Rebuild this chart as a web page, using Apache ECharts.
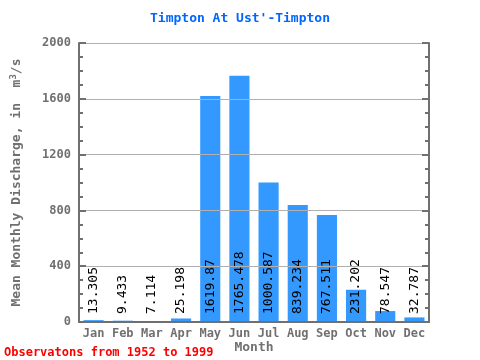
<!DOCTYPE html>
<html><head><meta charset="utf-8">
<script src="https://cdn.jsdelivr.net/npm/echarts@6/dist/echarts.min.js"></script>
<style>html,body{margin:0;padding:0;background:#fff}#c{width:480px;height:360px}</style>
</head><body><div id="c"></div>
<script>
var months = ['Jan','Feb','Mar','Apr','May','Jun','Jul','Aug','Sep','Oct','Nov','Dec'];
var discharge = [13.305, 9.433, 7.114, 25.198, 1619.87, 1765.478, 1000.587, 839.234, 767.511, 231.202, 78.547, 32.787];
var labels = ['13.305','9.433','7.114','25.198','1619.87','1765.478','1000.587','839.234','767.511','231.202','78.547','32.787'];
var titleText = "Timpton At Ust'-Timpton";
var footText = 'Observatons from 1952 to 1999';
var yTicks = [0, 400, 800, 1200, 1600, 2000];

var mono = '"DejaVu Sans Mono", "Liberation Mono", monospace';
var axisGray = '#707070';
var chart = echarts.init(document.getElementById('c'), null, {renderer:'canvas'});
chart.setOption({
  animation: false,
  backgroundColor: '#fff',
  title: [{
    text: titleText, left: 'center', top: 7,
    textStyle: {color: '#0066ff', fontFamily: mono, fontWeight: 'bold', fontSize: 13}
  }, {
    text: footText, left: -1, top: 342,
    textStyle: {color: '#ff0000', fontFamily: mono, fontWeight: 'bold', fontSize: 12}
  }],
  grid: {left: 79, right: 51, top: 43, bottom: 38, containLabel: false, outerBoundsMode: 'none'},
  xAxis: [{
    type: 'category', data: months, position: 'bottom',
    name: 'Month', nameLocation: 'middle', nameGap: 19, nameMoveOverlap: false,
    nameTextStyle: {color: axisGray, fontFamily: mono, fontWeight: 'bold', fontSize: 13},
    axisLine: {lineStyle: {color: axisGray, width: 2}},
    axisTick: {inside: true, length: 5, lineStyle: {color: axisGray, width: 2}},
    axisLabel: {color: axisGray, fontFamily: mono, fontWeight: 'bold', fontSize: 12, margin: 6},
    z: 5
  }, {
    type: 'category', data: months, position: 'top',
    axisLine: {lineStyle: {color: axisGray, width: 2}},
    axisTick: {inside: true, length: 5, lineStyle: {color: axisGray, width: 2}},
    axisLabel: {show: false},
    z: 5
  }],
  yAxis: [{
    type: 'value', min: 0, max: 2000, interval: 400, position: 'left',
    name: '{a|Mean Monthly Discharge, in  m}{s|3}{a|/s}', nameLocation: 'middle', nameGap: 54,
    nameTextStyle: {color: axisGray, fontFamily: mono, fontWeight: 'bold', fontSize: 13,
      rich: {
        a: {color: axisGray, fontFamily: mono, fontWeight: 'bold', fontSize: 13, lineHeight: 16},
        s: {color: axisGray, fontFamily: mono, fontWeight: 'bold', fontSize: 9, lineHeight: 16, verticalAlign: 'top', padding: [0, 0, 6, 0]}
      }},
    axisLine: {show: true, lineStyle: {color: axisGray, width: 2}},
    axisTick: {show: true, inside: true, length: 7, lineStyle: {color: axisGray, width: 2}},
    minorTick: {show: true, splitNumber: 4, length: 4, lineStyle: {color: axisGray, width: 2}},
    axisLabel: {color: axisGray, fontFamily: mono, fontWeight: 'bold', fontSize: 12, margin: 8,
      formatter: function(v){ return yTicks.indexOf(v) >= 0 ? String(v) : ''; }},
    splitLine: {show: true, lineStyle: {color: '#b0b0b0', width: 1}},
    z: 5
  }, {
    type: 'value', min: 0, max: 2000, interval: 400, position: 'right',
    axisLine: {show: true, lineStyle: {color: axisGray, width: 2}},
    axisTick: {show: true, inside: true, length: 7, lineStyle: {color: axisGray, width: 2}},
    minorTick: {show: true, splitNumber: 4, length: 4, lineStyle: {color: axisGray, width: 2}},
    axisLabel: {show: false},
    splitLine: {show: false},
    z: 5
  }],
  series: [{
    type: 'bar', data: discharge, xAxisIndex: 0, yAxisIndex: 0,
    barCategoryGap: '31%', z: 1,
    itemStyle: {color: '#3399ff'},
    label: {
      show: true, position: 'insideBottom', rotate: 90, align: 'left', verticalAlign: 'middle',
      distance: 8, color: '#000', fontFamily: mono, fontSize: 13,
      formatter: function(p){ return labels[p.dataIndex]; }
    }
  }]
});
</script></body></html>
